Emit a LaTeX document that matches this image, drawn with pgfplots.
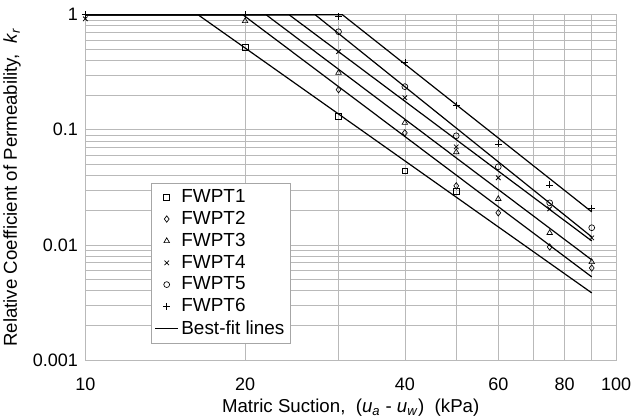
\documentclass[border=0pt]{standalone}
\usepackage{pgfplots}
\pgfplotsset{compat=1.18}
\usepackage{fontspec}
\setmainfont{Liberation Sans}
\begin{document}
\fontsize{13pt}{15pt}\selectfont
\begin{tikzpicture}
\begin{loglogaxis}[
  scale only axis, width=398pt, height=259pt,
  xmin=10, xmax=100, ymin=0.001, ymax=1,
  xtick={10,20,40,60,80,100}, xticklabels={10,20,40,60,80,100},
  minor xtick={30,50,70,90},
  ytick={0.001,0.01,0.1,1}, yticklabels={0.001,0.01,0.1,1},
  minor ytick={0.002,0.003,0.004,0.005,0.006,0.007,0.008,0.009,0.02,0.03,0.04,0.05,0.06,0.07,0.08,0.09,0.2,0.3,0.4,0.5,0.6,0.7,0.8,0.9},
  grid=both,
  major grid style={gray!55, line width=0.5pt},
  minor grid style={gray!55, line width=0.5pt},
  axis line style={gray!55},
  major tick length=0pt, minor tick length=0pt,
  /pgf/number format/assume math mode=true,
  tick label style={font=\fontsize{13.5pt}{15pt}\selectfont},
  xticklabel style={yshift=-9pt},
  yticklabel style={xshift=-1pt},
  label style={font=\fontsize{14pt}{16pt}\selectfont},
  xlabel={Matric Suction,\ \ (\textit{u}\textsubscript{\textit{a}} - \textit{u}\textsubscript{\textit{w}})\ \ (kPa)},
  ylabel={Relative Coefficient of Permeability,\ \ \textit{k}\textsubscript{\textit{r}}},
  xlabel style={at={(axis description cs:0.5,-0.139)},anchor=center},
  ylabel style={at={(axis description cs:-0.138,0.5)},anchor=center},
  legend style={at={(0.124,0.049)},anchor=south west, draw=gray!70, fill=white,
    font=\fontsize{14.2pt}{16pt}\selectfont, row sep=0.6pt, inner sep=2.5pt},
  legend cell align=left,
  clip=false,
]
\addplot[only marks, mark=square, mark size=2.2pt, mark options={black, line width=0.5pt}]
  coordinates {(20,0.52) (30,0.13) (40,0.044) (50,0.029)};
\addlegendentry{FWPT1}
\addplot[only marks, mark=diamond, mark size=2.4pt, mark options={black, line width=0.5pt}]
  coordinates {(30,0.223) (40,0.094) (50,0.0326) (60,0.019) (75,0.0096) (90,0.0063)};
\addlegendentry{FWPT2}
\addplot[only marks, mark=triangle, mark size=2.4pt, mark options={black, line width=0.5pt}]
  coordinates {(20,0.88) (30,0.313) (40,0.115) (50,0.064) (60,0.0251) (75,0.0127) (90,0.0071)};
\addlegendentry{FWPT3}
\addplot[only marks, mark=x, mark size=2.4pt, mark options={black, line width=0.6pt}]
  coordinates {(10,0.92) (30,0.477) (40,0.19) (50,0.0711) (60,0.0383) (75,0.0206) (90,0.0115)};
\addlegendentry{FWPT4}
\addplot[only marks, mark=o, mark size=2.2pt, mark options={black, line width=0.5pt}]
  coordinates {(30,0.711) (40,0.237) (50,0.0887) (60,0.0477) (75,0.0232) (90,0.0141)};
\addlegendentry{FWPT5}
\addplot[only marks, mark=+, mark size=2.6pt, mark options={black, line width=0.5pt}]
  coordinates {(10,1.0) (20,1.0) (30,0.96) (40,0.383) (50,0.162) (60,0.0755) (75,0.0332) (90,0.0206)};
\addlegendentry{FWPT6}
\addplot[black, line width=0.9pt] coordinates {(10,1) (16.3,1) (90,0.00383)};
\addlegendentry{Best-fit lines}
\addplot[black, line width=0.9pt, forget plot] coordinates {(10,1) (19.8,1) (90,0.00527)};
\addplot[black, line width=0.9pt, forget plot] coordinates {(10,1) (21.9,1) (90,0.00741)};
\addplot[black, line width=0.9pt, forget plot] coordinates {(10,1) (24.2,1) (90,0.01083)};
\addplot[black, line width=0.9pt, forget plot] coordinates {(10,1) (27.1,1) (90,0.01174)};
\addplot[black, line width=0.9pt, forget plot] coordinates {(10,1) (30.5,1) (90,0.01936)};
\end{loglogaxis}
\pgfresetboundingbox
\useasboundingbox (-64pt,-44pt) rectangle (411.5pt,270pt);
\end{tikzpicture}
\end{document}
